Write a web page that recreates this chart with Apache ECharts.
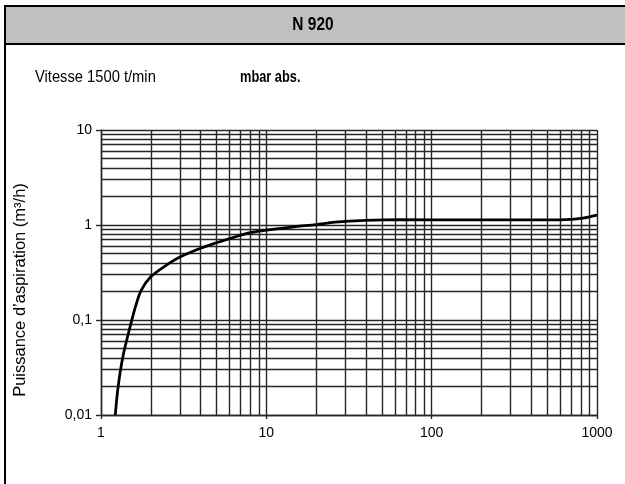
<!DOCTYPE html>
<html>
<head>
<meta charset="utf-8">
<script src="https://cdn.jsdelivr.net/npm/echarts@6/dist/echarts.min.js"></script>
<style>
html,body{margin:0;padding:0;background:#fff;}
#chart{width:625px;height:484px;}
</style>
</head>
<body>
<div id="chart"></div>
<script>
// Data (pressure in mbar abs., flow in m³/h)
var pressure = [1.22, 1.27, 1.36, 1.5, 1.62, 1.75, 2.0, 2.5, 3.0, 4.0, 5.0, 6.5, 8.0, 10, 15, 20, 26, 40, 65, 160, 400, 650, 820, 1000];
var flow     = [0.01, 0.02, 0.042, 0.085, 0.14, 0.205, 0.285, 0.38, 0.46, 0.57, 0.65, 0.75, 0.83, 0.885, 0.96, 1.01, 1.07, 1.12, 1.14, 1.13, 1.13, 1.14, 1.18, 1.27];
var xTickLabels = ['1', '10', '100', '1000'];
var yTickLabels = ['0,01', '0,1', '1', '10'];
var titleText = 'N 920';
var speedText = 'Vitesse 1500 t/min';
var unitText = 'mbar abs.';
var yAxisName = 'Puissance d\u2019aspiration (m\u00b3/h)';

// log grid (minor lines at 2..9 of each decade)
function decadeLines(lo, hi) {
  var out = [];
  for (var d = lo; d < hi; d *= 10) {
    for (var k = 2; k <= 9; k++) out.push(+(k * d).toPrecision(3));
  }
  return out;
}
var xMinor = decadeLines(1, 1000);
var yMinor = decadeLines(0.01, 10);

var gridColor = '#262626';
var chart = echarts.init(document.getElementById('chart'), null, {renderer: 'canvas'});

var markData = [];
xMinor.forEach(function (v) { markData.push({xAxis: v}); });
yMinor.forEach(function (v) { markData.push({yAxis: v}); });

var xMap = {1: xTickLabels[0], 10: xTickLabels[1], 100: xTickLabels[2], 1000: xTickLabels[3]};
var yMap = {0.01: yTickLabels[0], 0.1: yTickLabels[1], 1: yTickLabels[2], 10: yTickLabels[3]};
var fontFam = '"Liberation Sans", Arial, sans-serif';

chart.setOption({
  animation: false,
  backgroundColor: '#ffffff',
  grid: {left: 101, right: 28, top: 130, bottom: 69},
  graphic: [
    {type: 'rect', shape: {x: 5, y: 6, width: 640, height: 38}, style: {fill: '#c0c0c0', stroke: '#000', lineWidth: 2}, z: 10},
    {type: 'line', shape: {x1: 5, y1: 5, x2: 5, y2: 490}, style: {stroke: '#000', lineWidth: 2}, z: 10},
    {type: 'text', x: 313, y: 25, scaleX: 0.86, style: {text: titleText, font: 'bold 18px ' + fontFam, fill: '#000', textAlign: 'center', textVerticalAlign: 'middle'}, z: 11},
    {type: 'text', x: 35, y: 78, scaleX: 0.92, style: {text: speedText, font: '16px ' + fontFam, fill: '#000', textAlign: 'left', textVerticalAlign: 'middle'}, z: 11},
    {type: 'text', x: 240, y: 78, scaleX: 0.8, style: {text: unitText, font: 'bold 16px ' + fontFam, fill: '#000', textAlign: 'left', textVerticalAlign: 'middle'}, z: 11},
    {type: 'text', x: 20, y: 290, rotation: Math.PI / 2, style: {text: yAxisName, font: '16.5px ' + fontFam, fill: '#000', textAlign: 'center', textVerticalAlign: 'middle'}, z: 11}
  ],
  xAxis: {
    type: 'log', logBase: 10, min: 1, max: 1000,
    axisLine: {show: true, lineStyle: {color: gridColor, width: 1.4}},
    axisTick: {show: true, length: 4, lineStyle: {color: gridColor, width: 1.4}},
    axisLabel: {color: '#000', fontSize: 14, fontFamily: fontFam, margin: 11,
      formatter: function (v) { return xMap[Math.round(v)] || ''; }},
    splitLine: {show: true, lineStyle: {color: gridColor, width: 1.4}}
  },
  yAxis: {
    type: 'log', logBase: 10, min: 0.01, max: 10,
    axisLine: {show: true, lineStyle: {color: gridColor, width: 1.4}},
    axisTick: {show: true, length: 5, lineStyle: {color: gridColor, width: 1.4}},
    axisLabel: {color: '#000', fontSize: 14, fontFamily: fontFam, margin: 9,
      formatter: function (v) { var key = +(+v).toPrecision(2); return yMap[key] || ''; }},
    splitLine: {show: true, lineStyle: {color: gridColor, width: 1.4}}
  },
  series: [
    {
      type: 'line', data: [], silent: true,
      markLine: {silent: true, symbol: ['none', 'none'], animation: false, label: {show: false},
        lineStyle: {color: gridColor, width: 1.4, type: 'solid'}, emphasis: {disabled: true},
        data: markData}
    },
    {
      type: 'line', name: 'N 920',
      data: pressure.map(function (p, i) { return [p, flow[i]]; }),
      smooth: 0.3, showSymbol: false, symbol: 'none',
      lineStyle: {color: '#000', width: 2.8}, z: 5
    }
  ]
});
</script>
</body>
</html>
